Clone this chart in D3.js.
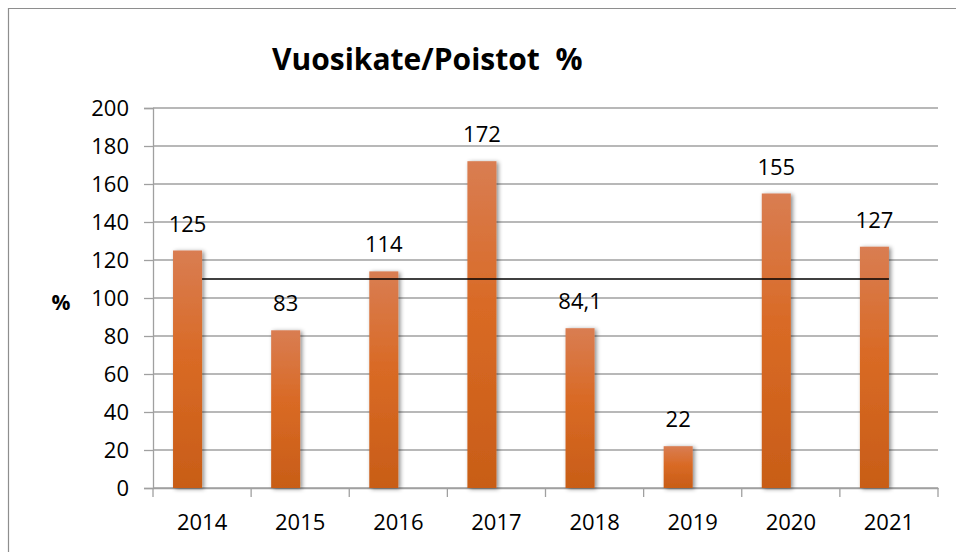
<!DOCTYPE html>
<html>
<head>
<meta charset="utf-8">
<script src="https://cdn.jsdelivr.net/npm/d3@7"></script>
<style>
  body { margin: 0; background: #fff; }
  svg { display: block; font-family: "Open Sans", "Noto Sans", sans-serif; }
</style>
</head>
<body>
<svg id="chart"></svg>
<script>
// data
const years = ["2014", "2015", "2016", "2017", "2018", "2019", "2020", "2021"];
const values = [125, 83, 114, 172, 84.1, 22, 155, 127];
const targetLine = [110, 110, 110, 110, 110, 110, 110, 110];
const yTicks = [0, 20, 40, 60, 80, 100, 120, 140, 160, 180, 200];
const title = "Vuosikate/Poistot  %";
const yTitle = "%";

const width = 956, height = 552;
const margin = { top: 108, right: 18, bottom: 64, left: 153 };
const innerW = width - margin.left - margin.right;
const innerH = height - margin.top - margin.bottom;

const fi = d3.formatLocale({ decimal: ",", thousands: "\u00a0", grouping: [3], currency: ["", "€"] });
const fmtLabel = d => Number.isInteger(d) ? String(d) : fi.format(".1f")(d);

const svg = d3.select("#chart").attr("width", width).attr("height", height);

const defs = svg.append("defs");
const grad = defs.append("linearGradient").attr("id", "barGrad")
  .attr("x1", 0).attr("y1", 0).attr("x2", 0).attr("y2", 1);
grad.append("stop").attr("offset", "0%").attr("stop-color", "#d97d52");
grad.append("stop").attr("offset", "45%").attr("stop-color", "#d96a25");
grad.append("stop").attr("offset", "100%").attr("stop-color", "#c85d17");

const shadow = defs.append("filter").attr("id", "shadow")
  .attr("x", "-30%").attr("y", "-10%").attr("width", "170%").attr("height", "130%");
shadow.append("feDropShadow").attr("dx", 2).attr("dy", 1).attr("stdDeviation", 2)
  .attr("flood-color", "#000").attr("flood-opacity", 0.45);

// outer frame
svg.append("path")
  .attr("d", `M8.5,${height} V8.5 H${width}`)
  .attr("fill", "none").attr("stroke", "#8e8e8e").attr("stroke-width", 1.2);

const x = d3.scaleBand().domain(years).range([0, innerW]);
// two slots per category (second one is empty, like an Excel clustered column)
const x1 = d3.scaleBand().domain(["value", "empty"]).range([0, x.bandwidth()])
  .paddingInner(0).paddingOuter(0.69);
const y = d3.scaleLinear().domain([0, 200]).range([innerH, 0]);

const g = svg.append("g").attr("transform", `translate(${margin.left},${margin.top})`);

// gridlines + y axis
const yAxis = g.append("g")
  .call(d3.axisLeft(y).tickValues(yTicks).tickSize(9).tickPadding(15).tickFormat(d3.format("d")));
yAxis.attr("font-size", 22).attr("font-family", null);
yAxis.select(".domain").attr("stroke", "#a0a0a0").attr("stroke-width", 1.3);
yAxis.selectAll(".tick line").attr("stroke", "#a0a0a0").attr("stroke-width", 1.3);
yAxis.selectAll(".tick text").attr("fill", "#000");

g.append("g").selectAll("line").data(yTicks).join("line")
  .attr("x1", 0).attr("x2", innerW)
  .attr("y1", d => y(d)).attr("y2", d => y(d))
  .attr("stroke", "#a0a0a0").attr("stroke-width", 1.3);

// x axis with ticks at category boundaries
const xAxis = g.append("g").attr("transform", `translate(0,${innerH})`)
  .call(d3.axisBottom(x).tickSize(0).tickPadding(26));
xAxis.attr("font-size", 22).attr("font-family", null);
xAxis.select(".domain").attr("stroke", "#a0a0a0").attr("stroke-width", 1.3);
xAxis.selectAll(".tick text").attr("fill", "#000");
const bounds = years.map(d => x(d)).concat([x(years[years.length - 1]) + x.bandwidth()]);
xAxis.append("g").selectAll("line").data(bounds).join("line")
  .attr("x1", d => d).attr("x2", d => d).attr("y1", 0).attr("y2", 9)
  .attr("stroke", "#a0a0a0").attr("stroke-width", 1.3);

// bars
const data = years.map((yr, i) => ({ year: yr, value: values[i], target: targetLine[i] }));
g.append("g").selectAll("rect").data(data).join("rect")
  .attr("x", d => x(d.year) + x1("value"))
  .attr("width", x1.bandwidth())
  .attr("y", d => y(d.value))
  .attr("height", d => innerH - y(d.value))
  .attr("fill", "url(#barGrad)")
  .attr("filter", "url(#shadow)");

// reference line
const line = d3.line().x(d => x(d.year) + x.bandwidth() / 2).y(d => y(d.target));
g.append("path").datum(data).attr("d", line)
  .attr("fill", "none").attr("stroke", "#000").attr("stroke-width", 1.3);

// value labels
g.append("g").selectAll("text").data(data).join("text")
  .attr("x", d => x(d.year) + x1("value") + x1.bandwidth() / 2)
  .attr("y", d => y(d.value) - 19)
  .attr("text-anchor", "middle")
  .attr("font-size", 22)
  .attr("fill", "#000")
  .text(d => fmtLabel(d.value));

// titles
svg.append("text").attr("x", 272).attr("y", 70)
  .attr("font-size", 30).attr("font-weight", "bold").attr("fill", "#000")
  .style("white-space", "pre")
  .text(title);
svg.append("text").attr("x", 61).attr("y", 310).attr("text-anchor", "middle")
  .attr("font-size", 21).attr("font-weight", "bold").attr("fill", "#000")
  .text(yTitle);
</script>
</body>
</html>
